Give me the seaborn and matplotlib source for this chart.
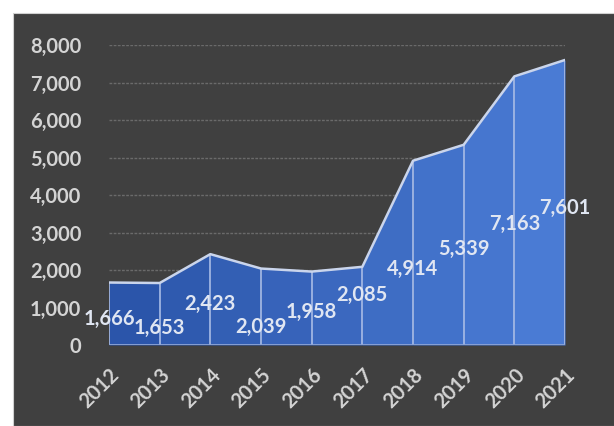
import matplotlib
matplotlib.use("Agg")
import matplotlib.pyplot as plt
import matplotlib.patches as mpatches
import numpy as np
import pandas as pd
import seaborn as sns
from matplotlib.colors import to_rgb

years = ["2012", "2013", "2014", "2015", "2016", "2017", "2018", "2019", "2020", "2021"]
values = [1666, 1653, 2423, 2039, 1958, 2085, 4914, 5339, 7163, 7601]
value_labels = ["1,666", "1,653", "2,423", "2,039", "1,958", "2,085", "4,914", "5,339", "7,163", "7,601"]
y_ticks = [0, 1000, 2000, 3000, 4000, 5000, 6000, 7000, 8000]
y_tick_labels = ["0", "1,000", "2,000", "3,000", "4,000", "5,000", "6,000", "7,000", "8,000"]
# vertical placement of each data label, as a fraction of its value
label_frac = [0.42, 0.28, 0.45, 0.24, 0.45, 0.64, 0.41, 0.48, 0.45, 0.48]

sns.set_theme(style="dark")
plt.rcParams["font.family"] = ["Lato", "DejaVu Sans"]

BG = "#404040"
TXT = "#d4d4d4"
FS = 14.5

fig = plt.figure(figsize=(6.14, 4.26), dpi=100, facecolor="white")
bg = mpatches.Rectangle((13 / 614, 0), 1, 413 / 426, transform=fig.transFigure,
                        facecolor=BG, edgecolor="#d0d0d0", lw=0.8, zorder=-10)
fig.add_artist(bg)
ax = fig.add_axes([109 / 614, 1 - 345 / 426, (565 - 109) / 614, (345 - 45) / 426])
ax.set_zorder(5)
ax.patch.set_alpha(0)

df = pd.DataFrame({"year": years, "value": values})
x = np.arange(len(years))
df["x"] = x

# gridlines
for t in y_ticks[1:]:
    ax.axhline(t, color="#6a6a6a", lw=1.0, ls=(0, (2, 1)), zorder=1)

# gradient fill, segment by segment
c0 = np.array(to_rgb("#2b55aa"))
c1 = np.array(to_rgb("#4a7bd4"))
n = len(x) - 1
for i in range(n):
    c = c0 + (c1 - c0) * (i / max(n - 1, 1))
    ax.fill_between(x[i:i + 2], 0, df["value"].values[i:i + 2], color=c, lw=0, zorder=2)

# vertical separators
ax.vlines(x, 0, df["value"], color="#a9bde8", lw=1.2, zorder=3)
# outline
sns.lineplot(data=df, x="x", y="value", ax=ax, color="#cad5ec", lw=1.8, zorder=4)
ax.axhline(0, color="#8ea5d6", lw=2, zorder=4)

for xi, v, lab, f in zip(x, values, value_labels, label_frac):
    ax.text(xi, v * f, lab, ha="center", va="center", color="#e0e6f2", fontsize=FS,
            fontweight="bold", zorder=5, clip_on=False)

ax.set_xlim(0, len(years) - 1)
ax.set_ylim(0, 8000)
ax.set_yticks(y_ticks)
ax.set_yticklabels(y_tick_labels, color=TXT, fontsize=FS, fontweight="bold")
ax.set_xticks(x)
ax.set_xticklabels(years, color=TXT, fontsize=FS, fontweight="bold", rotation=45, ha="right",
                   rotation_mode="anchor")
ax.tick_params(axis="y", length=0, pad=20)
ax.tick_params(axis="x", length=0, pad=14)
ax.set_xlabel("")
ax.set_ylabel("")
ax.grid(False)
for s in ax.spines.values():
    s.set_visible(False)

fig.savefig("out.png", dpi=100, facecolor="white")
